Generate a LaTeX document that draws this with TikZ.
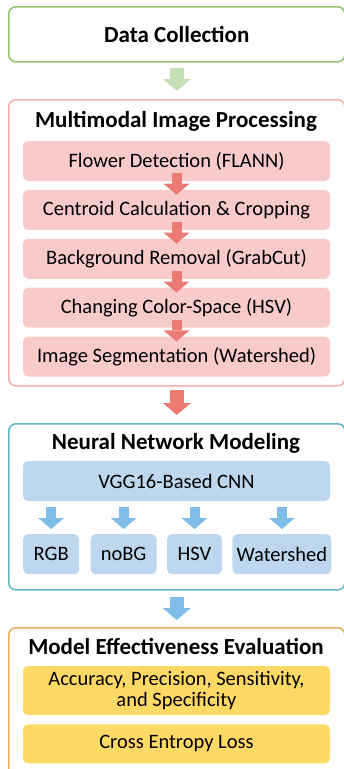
\documentclass[tikz,border=0pt]{standalone}
\usepackage{fontspec}
\setmainfont{Carlito}
\usetikzlibrary{positioning, calc, arrows.meta}

\definecolor{dcgreen}{HTML}{92C56E}
\definecolor{arrgreen}{HTML}{C5E0B4}
\definecolor{mmborder}{HTML}{F4AFAB}
\definecolor{mmfill}{HTML}{F8CBCA}
\definecolor{arrred}{HTML}{EB7A72}
\definecolor{nnborder}{HTML}{62B8C9}
\definecolor{nnfill}{HTML}{BDD7EE}
\definecolor{arrblue}{HTML}{7FBDE8}
\definecolor{meborder}{HTML}{E9AE62}
\definecolor{mefill}{HTML}{FFD966}

\begin{document}
\begin{tikzpicture}
    [x=1pt, y=-1pt,
    stagebox/.style={rectangle, rounded corners=7pt, line width=1.6pt, minimum width=336pt, anchor=north west},
    heading/.style={anchor=base, font=\bfseries\fontsize{23}{27}\selectfont},
    stepbox/.style={rectangle, rounded corners=5pt, minimum width=307pt, minimum height=40pt, inner sep=2pt, align=center, font=\fontsize{20.5}{21.5}\selectfont},
    outbox/.style={rectangle, rounded corners=5pt, minimum height=40pt, inner sep=2pt, fill=nnfill, font=\fontsize{20.5}{21.5}\selectfont},
    bigarrow/.style={line width=14pt, -{Triangle[width=28pt, length=12pt, line width=0pt]}},
    smallarrow/.style={line width=10pt, -{Triangle[width=26pt, length=11pt, line width=0pt]}},]

    \useasboundingbox (0,0) rectangle (343,769);

    %Stages
    \node[stagebox, draw=dcgreen, minimum height=55pt, font=\bfseries\fontsize{23}{27}\selectfont] (dc) at (8,6) {Data Collection};
    \node[stagebox, draw=mmborder, minimum height=286pt] (mm) at (8,99) {};
    \node[stagebox, draw=nnborder, minimum height=166pt] (nn) at (8,423) {};
    \node[stagebox, draw=meborder, minimum height=160pt] (me) at (8,627) {};

    \node[heading] (mmtitle) at (176,127) {Multimodal Image Processing};
    \node[heading] (nntitle) at (176,449) {Neural Network Modeling};
    \node[heading] (metitle) at (176,654) {Model Effectiveness Evaluation};

    %Image processing steps
    \node[stepbox, fill=mmfill] (flann) at (176.5,161) {Flower Detection (FLANN)};
    \node[stepbox, fill=mmfill] (crop)[below=8.5pt of flann] {Centroid Calculation \& Cropping};
    \node[stepbox, fill=mmfill] (grabcut)[below=8.5pt of crop] {Background Removal (GrabCut)};
    \node[stepbox, fill=mmfill] (hsv)[below=8.5pt of grabcut] {Changing Color-Space (HSV)};
    \node[stepbox, fill=mmfill] (seg)[below=8.5pt of hsv] {Image Segmentation (Watershed)};

    %Network
    \node[stepbox, fill=nnfill] (vgg) at (176.5,481) {VGG16-Based CNN};
    \node[outbox, minimum width=56pt, anchor=north west] (rgb) at (23,534) {RGB};
    \node[outbox, minimum width=66pt](nobg)[right=11pt of rgb] {noBG};
    \node[outbox, minimum width=55pt](hsvin)[right=10pt of nobg] {HSV};
    \node[outbox, minimum width=99pt](water)[right=10pt of hsvin] {Watershed};

    %Evaluation
    \node[stepbox, fill=mefill, minimum height=49pt] (metrics) at (176.5,690.5) {Accuracy, Precision, Sensitivity,\\and Specificity};
    \node[stepbox, fill=mefill, minimum height=39pt] (loss)[below=9pt of metrics] {Cross Entropy Loss};

    %Arrows
    \draw[bigarrow, arrgreen] ([yshift=-5pt]dc.south) -- ([yshift=8pt]mm.north);
    \draw[smallarrow, arrred] ([yshift=8pt]flann.south) -- ([yshift=-5pt]crop.north);
    \draw[smallarrow, arrred] ([yshift=8pt]crop.south) -- ([yshift=-5pt]grabcut.north);
    \draw[smallarrow, arrred] ([yshift=8pt]grabcut.south) -- ([yshift=-5pt]hsv.north);
    \draw[smallarrow, arrred] ([yshift=8pt]hsv.south) -- ([yshift=-5pt]seg.north);
    \draw[bigarrow, arrred] ([yshift=-3pt]mm.south) -- ([yshift=8pt]nn.north);
    \foreach \out in {rgb, nobg, hsvin, water}
        \draw[smallarrow, arrblue] ($(vgg.south -| \out.north)+(0,6)$) -- ([yshift=5pt]\out.north);
    \draw[bigarrow, arrblue] ([yshift=-6pt]nn.south) -- ([yshift=7pt]me.north);
\end{tikzpicture}
\end{document}
